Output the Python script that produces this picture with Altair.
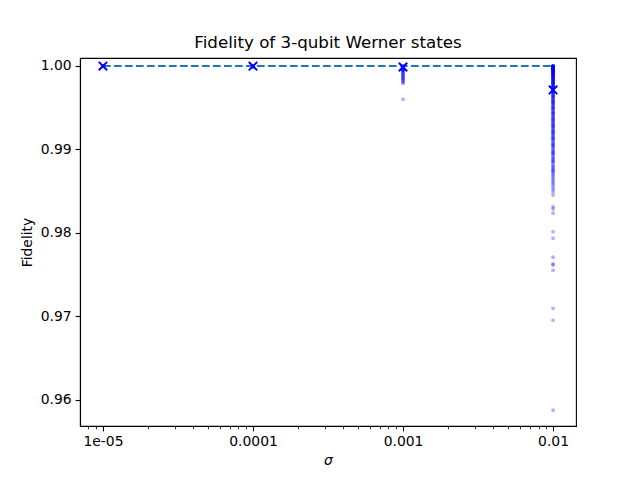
import altair as alt
import pandas as pd

# ---- data ----
sigmas = [1e-5, 1e-4, 1e-3, 1e-2]

fid_s1 = [1.0, 0.99999, 0.99999, 0.99998, 0.99998, 0.99997, 0.99999, 1.0]
fid_s2 = [1.0, 0.99999, 0.99998, 0.99997, 0.99996, 0.99995, 0.99994, 0.99992, 0.9999]
fid_s3 = [1.0, 0.99998, 0.99995, 0.99993, 0.9999, 0.99987, 0.99985, 0.9998, 0.99975,
          0.9997, 0.99965, 0.9996, 0.99955, 0.9995, 0.99945, 0.9994, 0.9993, 0.9992,
          0.9991, 0.999, 0.9989, 0.9988, 0.9987, 0.9986, 0.9985, 0.9984, 0.9983,
          0.9982, 0.998, 0.99796, 0.99601]
fid_s4 = [1.0, 0.99999, 0.99998, 0.99997, 0.99996, 0.99995, 0.99994, 0.99993, 0.99992,
          0.9999, 0.99988, 0.99985, 0.99982, 0.9998, 0.99977, 0.99974, 0.9997, 0.99966,
          0.99962, 0.99958, 0.99954, 0.9995, 0.99945, 0.9994, 0.99935, 0.9993, 0.99925,
          0.9992, 0.99914, 0.99908, 0.99902, 0.99896, 0.9989, 0.99884, 0.99878, 0.99872,
          0.99865, 0.99858, 0.9985, 0.99843, 0.99836, 0.99828, 0.9982, 0.99812, 0.99804,
          0.99796, 0.99788, 0.9978, 0.9977, 0.9976, 0.9975, 0.9974, 0.9973, 0.9972,
          0.9971, 0.997, 0.9969, 0.9968, 0.99668, 0.99655, 0.99642, 0.9963, 0.99617,
          0.99604, 0.9959, 0.99576, 0.99562, 0.99548, 0.99534, 0.9952, 0.99505, 0.9949,
          0.99475, 0.9946, 0.99444, 0.99428, 0.99412, 0.99396, 0.9938, 0.99363, 0.99346,
          0.99329, 0.99312, 0.99295, 0.99277, 0.99259, 0.99241, 0.99222, 0.99203, 0.99184,
          0.99165, 0.99145, 0.99125, 0.99105, 0.99084, 0.99063, 0.99042, 0.9902, 0.98998,
          0.98975, 0.98952, 0.98928, 0.98904, 0.9888, 0.98855, 0.9883, 0.98804, 0.98778,
          0.98751, 0.98724, 0.9869, 0.9865, 0.9861, 0.9857, 0.9852, 0.98455,
          0.98315, 0.98287, 0.98236, 0.98016, 0.97937, 0.97709, 0.97629, 0.97617,
          0.97553, 0.97098, 0.96954, 0.95877,
          # further samples in the dense band
          0.99997, 0.99991, 0.99983, 0.99972, 0.99961, 0.99948, 0.99933, 0.99917,
          0.99899, 0.99881, 0.99861, 0.99839, 0.99816, 0.99792, 0.99766, 0.99738,
          0.99711, 0.99683, 0.99652, 0.99621, 0.99588, 0.99555, 0.99521, 0.99486,
          0.99451, 0.99415, 0.99377, 0.99338, 0.99302, 0.99266, 0.99231, 0.99195,
          0.99158, 0.99118, 0.99077, 0.99036, 0.98991, 0.98946, 0.98898, 0.98849,
          0.98797, 0.98741, 0.98706, 0.98668, 0.98627, 0.98588, 0.98541, 0.98493,
          0.99994, 0.99986, 0.99968, 0.99952, 0.99923, 0.99887, 0.99847, 0.99801,
          0.99752, 0.99697, 0.99636, 0.99571, 0.99502, 0.99433, 0.99358, 0.99281,
          0.99211, 0.99136, 0.99052, 0.98962, 0.98868, 0.98762]

mean_fid = [0.99999, 0.99998, 0.99988, 0.99713]
ideal_fid = [1.0, 1.0, 1.0, 1.0]

x_major = [1e-5, 1e-4, 1e-3, 1e-2]
x_major_labels = ["1e-05", "0.0001", "0.001", "0.01"]
x_minor = [8e-6, 9e-6,
           2e-5, 3e-5, 4e-5, 5e-5, 6e-5, 7e-5, 8e-5, 9e-5,
           2e-4, 3e-4, 4e-4, 5e-4, 6e-4, 7e-4, 8e-4, 9e-4,
           2e-3, 3e-3, 4e-3, 5e-3, 6e-3, 7e-3, 8e-3, 9e-3]
y_ticks = [0.96, 0.97, 0.98, 0.99, 1.00]

# ---- tables ----
rows = []
for s, vals in zip(sigmas, [fid_s1, fid_s2, fid_s3, fid_s4]):
    for v in vals:
        rows.append({"sigma": s, "fidelity": v})
scatter_df = pd.DataFrame(rows)
mean_df = pd.DataFrame({"sigma": sigmas, "fidelity": mean_fid})
ideal_df = pd.DataFrame({"sigma": sigmas, "fidelity": ideal_fid})

label_expr = " : ".join(
    f"datum.value == {v} ? '{l}'" for v, l in zip(x_major, x_major_labels)
) + " : ''"
major_test = "indexof([" + ",".join(str(v) for v in x_major) + "], datum.value) >= 0"

xscale = alt.Scale(type="log", domain=[7.03e-6, 0.01422], nice=False)
yscale = alt.Scale(domain=[0.956886, 1.000958], nice=False, zero=False)

xaxis = alt.Axis(
    values=sorted(x_major + x_minor),
    labelExpr=label_expr,
    title="σ",
    titleFontStyle="italic",
    tickSize={"condition": {"test": major_test, "value": 4.9}, "value": 2.8},
    tickWidth={"condition": {"test": major_test, "value": 1.1}, "value": 0.8},
    labelPadding=4,
    titlePadding=5,
    labelFlush=False,
)
yaxis = alt.Axis(values=y_ticks, format=".2f", title="Fidelity", tickSize=4.9,
                 tickWidth=1.1, labelPadding=4, titlePadding=6)

line = alt.Chart(ideal_df).mark_line(
    color="#1f77b4", strokeDash=[7.7, 3.3], strokeWidth=2.1
).encode(
    x=alt.X("sigma:Q", scale=xscale, axis=xaxis),
    y=alt.Y("fidelity:Q", scale=yscale, axis=yaxis),
)

pts = alt.Chart(scatter_df).mark_circle(
    size=15, opacity=0.3, color="blue"
).encode(
    x=alt.X("sigma:Q", scale=xscale),
    y=alt.Y("fidelity:Q", scale=yscale),
)

means = alt.Chart(mean_df).mark_point(
    shape="M-1,-1L1,1M-1,1L1,-1", filled=False, size=70, strokeWidth=2,
    color="blue", opacity=1
).encode(
    x=alt.X("sigma:Q", scale=xscale),
    y=alt.Y("fidelity:Q", scale=yscale),
)

chart = alt.layer(line, pts, means).properties(
    width=496, height=368,
    title=alt.TitleParams("Fidelity of 3-qubit Werner states", fontSize=16.7,
                          fontWeight="normal", font="DejaVu Sans", color="black",
                          offset=6),
    autosize=alt.AutoSizeParams(type="none"),
    padding={"left": 72, "top": 50, "right": 56, "bottom": 46},
).configure_view(
    stroke="black", strokeWidth=1.1
).configure_axis(
    grid=False, domainColor="black", domainWidth=1.1, tickColor="black",
    labelFont="DejaVu Sans", labelFontSize=13.9, labelColor="black",
    titleFont="DejaVu Sans", titleFontSize=13.9, titleFontWeight="normal",
    titleColor="black",
)

chart.save("out.html", embed_options={"renderer": "svg", "actions": False})
